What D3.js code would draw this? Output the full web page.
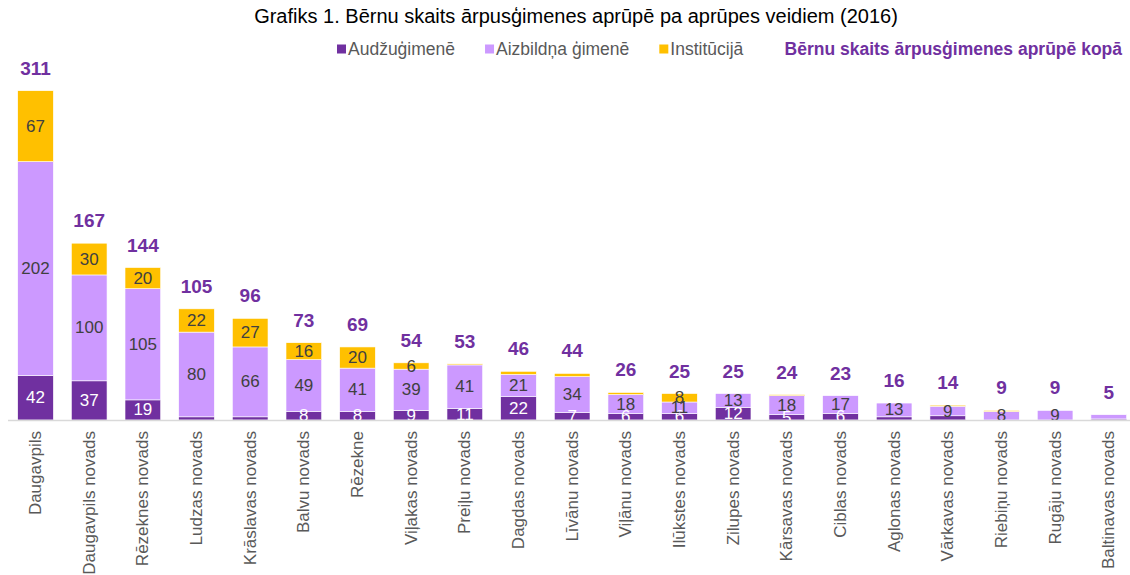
<!DOCTYPE html>
<html>
<head>
<meta charset="utf-8">
<script src="https://cdn.jsdelivr.net/npm/d3@7"></script>
<style>
  body { margin: 0; background: #fff; }
  text { font-family: "Liberation Sans", Arial, sans-serif; }
</style>
</head>
<body>
<script>
const categories = ["Daugavpils", "Daugavpils novads", "Rēzeknes novads", "Ludzas novads", "Krāslavas novads",
  "Balvu novads", "Rēzekne", "Viļakas novads", "Preiļu novads", "Dagdas novads", "Līvānu novads",
  "Viļānu novads", "Ilūkstes novads", "Zilupes novads", "Kārsavas novads", "Ciblas novads",
  "Aglonas novads", "Vārkavas novads", "Riebiņu novads", "Rugāju novads", "Baltinavas novads"];
const audzugimene = [42, 37, 19, 3, 3, 8, 8, 9, 11, 22, 7, 6, 6, 12, 5, 6, 3, 4, 0, 0, 1];
const aizbildnaGimene = [202, 100, 105, 80, 66, 49, 41, 39, 41, 21, 34, 18, 11, 13, 18, 17, 13, 9, 8, 9, 4];
const institucija = [67, 30, 20, 22, 27, 16, 20, 6, 1, 3, 3, 2, 8, 0, 1, 0, 0, 1, 1, 0, 0];
const seriesNames = ["Audžuģimenē", "Aizbildņa ģimenē", "Institūcijā"];
const totalName = "Bērnu skaits ārpusģimenes aprūpē kopā";
const colors = ["#7030A0", "#CC99FF", "#FFC000"];

const width = 1130, height = 575;
const svg = d3.select("body").append("svg").attr("width", width).attr("height", height);

svg.append("text")
  .attr("x", 576).attr("y", 23)
  .attr("text-anchor", "middle")
  .style("font-size", "20px").attr("fill", "#000")
  .text("Grafiks 1. Bērnu skaits ārpusģimenes aprūpē pa aprūpes veidiem (2016)");

// legend
let lx = 337;
const ly = 55;
seriesNames.forEach((name, i) => {
  svg.append("rect").attr("x", lx).attr("y", ly - 10.5).attr("width", 9).attr("height", 9).attr("fill", colors[i]);
  const t = svg.append("text").attr("x", lx + 11).attr("y", ly)
    .style("font-size", "17.5px").attr("fill", "#595959").text(name);
  lx += 11 + t.node().getComputedTextLength() + 30;
});
svg.append("text").attr("x", 1122).attr("y", ly).attr("text-anchor", "end")
  .style("font-size", "17.5px").style("font-weight", "bold").attr("fill", "#7030A0").text(totalName);

const rows = categories.map((c, i) => ({
  name: c, a: audzugimene[i], b: aizbildnaGimene[i], c: institucija[i],
  total: audzugimene[i] + aizbildnaGimene[i] + institucija[i]
}));

const x = d3.scaleBand().domain(categories).range([8.7, 1135.6]).paddingInner(0.335).paddingOuter(0.1675);
const y = d3.scaleLinear().domain([0, 340]).range([420, 60]);

const stack = d3.stack().keys(["a", "b", "c"]);
const layers = stack(rows);

const g = svg.append("g");
layers.forEach((layer, li) => {
  g.selectAll(null).data(layer).enter().append("rect")
    .attr("x", d => x(d.data.name))
    .attr("width", x.bandwidth())
    .attr("y", d => y(d[1]))
    .attr("height", d => y(d[0]) - y(d[1]))
    .attr("fill", colors[li])
    .attr("stroke", "#fff").attr("stroke-width", d => d[1] > d[0] ? 0.6 : 0);
});

// axis line
svg.append("line").attr("x1", 8).attr("x2", 1130).attr("y1", 420.5).attr("y2", 420.5)
  .attr("stroke", "#D9D9D9").attr("stroke-width", 1.5);

// segment labels
layers.forEach((layer, li) => {
  g.selectAll(null).data(layer.filter(d => d[1] - d[0] >= 5)).enter().append("text")
    .attr("x", d => x(d.data.name) + x.bandwidth() / 2)
    .attr("y", d => y((d[0] + d[1]) / 2))
    .attr("text-anchor", "middle").attr("dominant-baseline", "central")
    .style("font-size", "17px")
    .attr("fill", li === 0 ? "#fff" : "#404040")
    .text(d => d[1] - d[0]);
});

// totals
g.selectAll(null).data(rows).enter().append("text")
  .attr("x", d => x(d.name) + x.bandwidth() / 2)
  .attr("y", d => y(d.total) - 16)
  .attr("text-anchor", "middle")
  .style("font-size", "19px").style("font-weight", "bold").attr("fill", "#7030A0")
  .text(d => d.total);

// x labels
svg.selectAll(null).data(categories).enter().append("text")
  .attr("transform", d => `translate(${x(d) + x.bandwidth() / 2},431) rotate(-90)`)
  .attr("text-anchor", "end").attr("dominant-baseline", "central")
  .style("font-size", "17px").attr("fill", "#595959")
  .text(d => d);
</script>
</body>
</html>
